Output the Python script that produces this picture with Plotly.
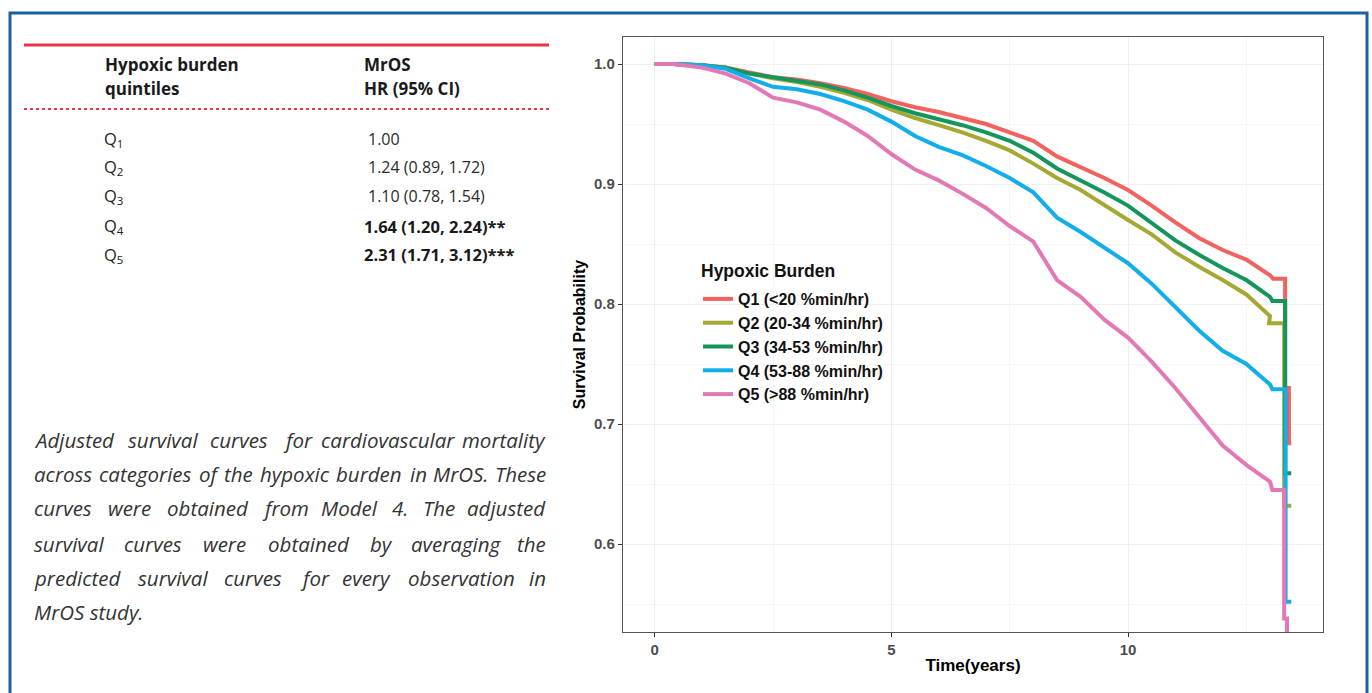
import plotly.graph_objects as go

# ---- survival curves (time in years, adjusted survival probability) ----
times = [0, 0.4, 1.0, 1.5, 2.0, 2.5, 3.0, 3.5, 4.0, 4.5, 5.0, 5.5, 6.0, 6.5,
         7.0, 7.5, 8.0, 8.5, 9.0, 9.5, 10.0, 10.5, 11.0, 11.5, 12.0, 12.5, 13.0]

q1_surv = [1.000, 1.000, 0.999, 0.997, 0.993, 0.989, 0.987, 0.984, 0.980, 0.975,
           0.969, 0.964, 0.960, 0.955, 0.950, 0.943, 0.936, 0.923, 0.914, 0.905,
           0.895, 0.882, 0.868, 0.855, 0.845, 0.837, 0.824]
q2_surv = [1.000, 1.000, 0.999, 0.997, 0.992, 0.988, 0.985, 0.981, 0.976, 0.970,
           0.962, 0.955, 0.949, 0.943, 0.936, 0.928, 0.917, 0.905, 0.895, 0.882,
           0.870, 0.858, 0.843, 0.831, 0.820, 0.808, 0.790]
q3_surv = [1.000, 1.000, 0.999, 0.997, 0.992, 0.989, 0.986, 0.983, 0.978, 0.972,
           0.965, 0.959, 0.954, 0.949, 0.943, 0.936, 0.926, 0.913, 0.903, 0.893,
           0.882, 0.868, 0.853, 0.841, 0.830, 0.820, 0.806]
q4_surv = [1.000, 1.000, 0.999, 0.996, 0.988, 0.981, 0.979, 0.975, 0.969, 0.962,
           0.952, 0.940, 0.931, 0.924, 0.915, 0.905, 0.893, 0.872, 0.860, 0.847,
           0.834, 0.817, 0.798, 0.778, 0.761, 0.750, 0.733]
q5_surv = [1.000, 1.000, 0.997, 0.992, 0.984, 0.972, 0.968, 0.962, 0.952, 0.940,
           0.925, 0.912, 0.903, 0.892, 0.880, 0.865, 0.852, 0.820, 0.806, 0.787,
           0.772, 0.752, 0.730, 0.706, 0.682, 0.666, 0.652]

# last follow-up: plateau then the final drops
q1_tail_t = [13.07, 13.32, 13.32, 13.40, 13.40, 13.45]
q1_tail_s = [0.821, 0.821, 0.730, 0.730, 0.684, 0.684]
q2_tail_t = [12.98, 13.30, 13.30, 13.45]
q2_tail_s = [0.784, 0.784, 0.632, 0.632]
q3_tail_t = [13.05, 13.32, 13.32, 13.45]
q3_tail_s = [0.8025, 0.8025, 0.659, 0.659]
q4_tail_t = [13.05, 13.33, 13.33, 13.45]
q4_tail_s = [0.729, 0.729, 0.552, 0.552]
q5_tail_t = [13.05, 13.30, 13.30, 13.36, 13.36]
q5_tail_s = [0.645, 0.645, 0.538, 0.538, 0.500]

series_names = ["Q1 (<20 %min/hr)", "Q2 (20-34 %min/hr)", "Q3 (34-53 %min/hr)",
                "Q4 (53-88 %min/hr)", "Q5 (>88 %min/hr)"]
series_colors = ["#F2625E", "#A5A833", "#13955B", "#12AEEA", "#E279B5"]

# ---- hazard-ratio table ----
table_quintiles = ["1", "2", "3", "4", "5"]
table_hr = ["1.00", "1.24 (0.89, 1.72)", "1.10 (0.78, 1.54)",
            "1.64 (1.20, 2.24)**", "2.31 (1.71, 3.12)***"]
table_bold = [False, False, False, True, True]

# ---- caption (justified lines, last one ragged) ----
caption_lines = [
    "Adjusted survival curves for cardiovascular mortality",
    "across categories of the hypoxic burden in MrOS. These",
    "curves were obtained from Model 4. The adjusted",
    "survival curves were obtained by averaging the",
    "predicted survival curves for every observation in",
    "MrOS study.",
]
caption_y = [440, 474, 508, 544, 578, 612]

W, H = 1372, 693


def px(x):
    return x / W


def py(y):
    return 1 - y / H


fig = go.Figure()

all_surv = [q1_surv, q2_surv, q3_surv, q4_surv, q5_surv]
all_tail_t = [q1_tail_t, q2_tail_t, q3_tail_t, q4_tail_t, q5_tail_t]
all_tail_s = [q1_tail_s, q2_tail_s, q3_tail_s, q4_tail_s, q5_tail_s]

for i in range(5):
    fig.add_trace(go.Scatter(
        x=times + all_tail_t[i],
        y=all_surv[i] + all_tail_s[i],
        mode="lines",
        name=series_names[i],
        legendgroup=f"g{i}",
        line=dict(color=series_colors[i], width=4),
    ))

chart_font = "Liberation Sans, Arial, sans-serif"

fig.update_layout(
    width=W, height=H,
    margin=dict(l=0, r=0, t=0, b=0),
    paper_bgcolor="white",
    plot_bgcolor="white",
    showlegend=True,
    legend=dict(
        x=px(698), y=py(282), xanchor="left", yanchor="top",
        font=dict(family=chart_font, size=16, color="#111111", weight="bold"),
        bgcolor="rgba(0,0,0,0)",
        tracegroupgap=0,
        traceorder="grouped",
    ),
    xaxis=dict(
        domain=[px(623), px(1323)],
        range=[-0.67, 14.12],
        tickvals=[0, 5, 10],
        ticks="outside", ticklen=4, tickcolor="#333333", tickwidth=1.2,
        tickfont=dict(family=chart_font, size=15, color="#4D4D4D", weight="bold"),
        showgrid=True, gridcolor="#EFEFEF", gridwidth=1,
        minor=dict(dtick=2.5, showgrid=True, gridcolor="#F6F6F6", gridwidth=1),
        showline=True, mirror=True, linecolor="#555555", linewidth=1.3,
        zeroline=False,
        title=dict(text="<b>Time(years)</b>", standoff=1,
                   font=dict(family=chart_font, size=17, color="#000000")),
    ),
    yaxis=dict(
        domain=[py(632), py(37)],
        range=[0.5267, 1.0225],
        tickvals=[0.6, 0.7, 0.8, 0.9, 1.0],
        ticktext=["0.6", "0.7", "0.8", "0.9", "1.0"],
        ticks="outside", ticklen=4, tickcolor="#333333", tickwidth=1.2,
        tickfont=dict(family=chart_font, size=15, color="#4D4D4D", weight="bold"),
        showgrid=True, gridcolor="#EFEFEF", gridwidth=1,
        minor=dict(dtick=0.05, showgrid=True, gridcolor="#F6F6F6", gridwidth=1),
        showline=True, mirror=True, linecolor="#555555", linewidth=1.3,
        zeroline=False,
        title=dict(text="<b>Survival Probability</b>", standoff=4,
                   font=dict(family=chart_font, size=16, color="#000000")),
    ),
)

shapes = []
# outer blue frame
shapes.append(dict(type="rect", xref="paper", yref="paper",
                   x0=px(10), x1=px(1367), y0=py(720), y1=py(13),
                   line=dict(color="#1D5FA3", width=3), fillcolor="rgba(0,0,0,0)",
                   layer="above"))
# table rules
shapes.append(dict(type="line", xref="paper", yref="paper",
                   x0=px(24), x1=px(549), y0=py(45), y1=py(45),
                   line=dict(color="#E8344B", width=3)))
shapes.append(dict(type="line", xref="paper", yref="paper",
                   x0=px(24), x1=px(549), y0=py(109), y1=py(109),
                   line=dict(color="#E8344B", width=2, dash="dot")))
fig.update_layout(shapes=shapes)

table_font = "Open Sans, Lato, sans-serif"
ann = []


def text(x, y, s, size, color="#222222", family=table_font, anchor="left", bold=False,
         italic=False):
    ann.append(dict(
        xref="paper", yref="paper", x=px(x), y=py(y), text=s, showarrow=False,
        xanchor=anchor, yanchor="middle", align="left",
        font=dict(family=family, size=size, color=color,
                  weight="bold" if bold else "normal",
                  style="italic" if italic else "normal"),
    ))


# legend heading
text(699, 271, "Hypoxic Burden", 17.5, "#111111", family=chart_font, bold=True)

# table header
text(103, 64, "Hypoxic burden", 17, "#1a1a1a", bold=True)
text(103, 88, "quintiles", 17, "#1a1a1a", bold=True)
text(362, 64, "MrOS", 17, "#1a1a1a", bold=True)
text(362, 88, "HR (95% CI)", 17, "#1a1a1a", bold=True)

row_y = [139, 167, 196, 226, 255]
for q, hr, b, y in zip(table_quintiles, table_hr, table_bold, row_y):
    text(102, y, f"Q<sub>{q}</sub>", 16.5, "#222222")
    text(362 if b else 366, y, hr, 16.5 if b else 16, "#1a1a1a" if b else "#2a2a2a",
         bold=b)

# caption: approximate advance widths (em) used to spread words across the column
ADV = {
    "a": .556, "b": .613, "c": .480, "d": .613, "e": .561, "f": .336, "g": .548,
    "h": .613, "i": .258, "j": .258, "k": .516, "l": .258, "m": .930, "n": .613,
    "o": .601, "p": .613, "q": .613, "r": .408, "s": .477, "t": .353, "u": .613,
    "v": .501, "w": .778, "x": .524, "y": .501, "z": .463, "A": .633, "M": .907,
    "O": .765, "S": .549, "T": .556, "4": .571, ".": .268,
}
CAP_SIZE = 20.5
CAP_LEFT, CAP_RIGHT = 32, 548
cap_font = "Open Sans, Noto Sans, sans-serif"


def word_width(w):
    return sum(ADV.get(ch, .55) for ch in w) * CAP_SIZE * 0.96


for k, (line, y) in enumerate(zip(caption_lines, caption_y)):
    words = line.split(" ")
    if k == len(caption_lines) - 1:
        text(CAP_LEFT, y, line, CAP_SIZE, "#333333", family=cap_font, italic=True)
        continue
    widths = [word_width(w) for w in words]
    gap = (CAP_RIGHT - CAP_LEFT - sum(widths)) / (len(words) - 1)
    x = CAP_LEFT
    for j, (w, ww) in enumerate(zip(words, widths)):
        if j == len(words) - 1:
            text(CAP_RIGHT, y, w, CAP_SIZE, "#333333", family=cap_font,
                 anchor="right", italic=True)
        else:
            text(x, y, w, CAP_SIZE, "#333333", family=cap_font, italic=True)
        x += ww + gap

fig.update_layout(annotations=ann)

fig.write_html("out.html")
